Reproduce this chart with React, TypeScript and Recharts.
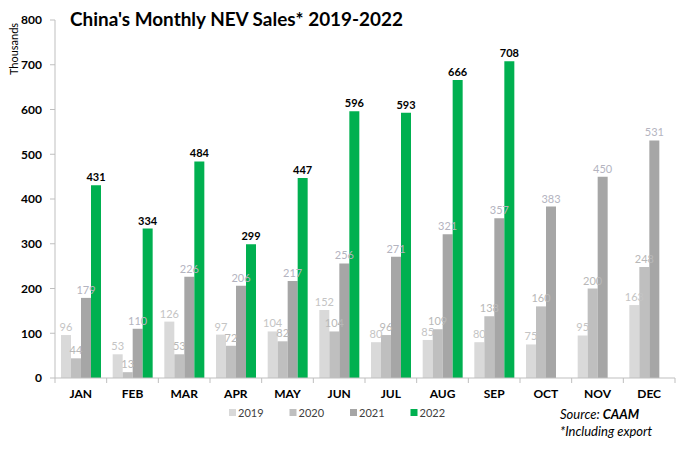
import { BarChart, Bar, XAxis, YAxis, LabelList } from "recharts";

const MONTHS = ["JAN", "FEB", "MAR", "APR", "MAY", "JUN", "JUL", "AUG", "SEP", "OCT", "NOV", "DEC"];
const SALES_2019 = [96, 53, 126, 97, 104, 152, 80, 85, 80, 75, 95, 163];
const SALES_2020 = [44, 13, 53, 72, 82, 104, 96, 109, 138, 160, 200, 248];
const SALES_2021 = [179, 110, 226, 206, 217, 256, 271, 321, 357, 383, 450, 531];
const SALES_2022 = [431, 334, 484, 299, 447, 596, 593, 666, 708, null, null, null];
const Y_TICKS = [0, 100, 200, 300, 400, 500, 600, 700, 800];

const WIDTH = 690;
const HEIGHT = 449;
const MARGIN = { top: 20, right: 15, left: 0, bottom: 0 };
const Y_AXIS_WIDTH = 55;
const X_AXIS_HEIGHT = 71;
const PLOT_BOTTOM = HEIGHT - MARGIN.bottom - X_AXIS_HEIGHT;
const BAND = (WIDTH - MARGIN.right - Y_AXIS_WIDTH) / MONTHS.length;

const FONT = "Lato, 'Open Sans', sans-serif";
const AXIS_GREY = "#bfbfbf";

const SERIES = [
    { key: "y2019", name: "2019", values: SALES_2019, color: "#d9d9d9", label: "#c4c4c4", bold: false },
    { key: "y2020", name: "2020", values: SALES_2020, color: "#bfbfbf", label: "#b8b8b8", bold: false },
    { key: "y2021", name: "2021", values: SALES_2021, color: "#a6a6a6", label: "#b4b4bf", bold: false },
    { key: "y2022", name: "2022", values: SALES_2022, color: "#00b050", label: "#000000", bold: true },
];

const data = MONTHS.map((month, i) => {
    const row: Record<string, string | number | null> = { month };
    SERIES.forEach((s) => {
        row[s.key] = s.values[i];
    });
    return row;
});

// Month label plus a tick mark on each category boundary.
function MonthTick(props: any) {
    const { x, payload, index } = props;
    const left = x - BAND / 2;
    const right = x + BAND / 2;
    return (
        <g>
            <line x1={left} y1={PLOT_BOTTOM} x2={left} y2={PLOT_BOTTOM + 5} stroke={AXIS_GREY} />
            {index === MONTHS.length - 1 && (
                <line x1={right} y1={PLOT_BOTTOM} x2={right} y2={PLOT_BOTTOM + 5} stroke={AXIS_GREY} />
            )}
            <text
                x={x}
                y={PLOT_BOTTOM + 20}
                textAnchor="middle"
                fontFamily={FONT}
                fontWeight="bold"
                fontSize={12}
                fill="#000"
            >
                {payload.value}
            </text>
        </g>
    );
}

export default function App() {
    return (
        <div style={{ position: "absolute", left: 0, top: 0, width: WIDTH, height: HEIGHT, background: "#fff" }}>
            <BarChart
                width={WIDTH}
                height={HEIGHT}
                data={data}
                margin={MARGIN}
                barCategoryGap={6}
                barGap={0}
            >
                <XAxis
                    dataKey="month"
                    height={X_AXIS_HEIGHT}
                    axisLine={{ stroke: AXIS_GREY }}
                    tickLine={false}
                    tick={<MonthTick />}
                    interval={0}
                />
                <YAxis
                    width={Y_AXIS_WIDTH}
                    domain={[0, 800]}
                    ticks={Y_TICKS}
                    interval={0}
                    axisLine={{ stroke: AXIS_GREY }}
                    tickLine={{ stroke: AXIS_GREY }}
                    tickSize={5}
                    tickMargin={8}
                    tick={{ fontFamily: FONT, fontWeight: "bold", fontSize: 12, fill: "#000" }}
                />
                {SERIES.map((s) => (
                    <Bar key={s.key} dataKey={s.key} name={s.name} fill={s.color} isAnimationActive={false}>
                        <LabelList
                            dataKey={s.key}
                            position="top"
                            offset={4}
                            formatter={(v: any) => (v == null ? "" : v)}
                            style={{
                                fontFamily: FONT,
                                fontSize: 11,
                                fontWeight: s.bold ? "bold" : "normal",
                                fill: s.label,
                            }}
                        />
                    </Bar>
                ))}
            </BarChart>

            <svg
                width={WIDTH}
                height={HEIGHT}
                style={{ position: "absolute", left: 0, top: 0, pointerEvents: "none" }}
            >
                <text
                    x={70}
                    y={26}
                    fontFamily={FONT}
                    fontWeight="bold"
                    fontSize={19.5}
                    textLength={333}
                    lengthAdjust="spacingAndGlyphs"
                    fill="#000"
                >
                    China's Monthly NEV Sales* 2019-2022
                </text>
                <text
                    transform="translate(18, 49) rotate(-90)"
                    textAnchor="middle"
                    fontFamily={FONT}
                    fontSize={11}
                    fill="#000"
                >
                    Thousands
                </text>

                {SERIES.map((s, i) => (
                    <g key={s.key} transform={`translate(${229 + i * 60.5}, 413)`}>
                        <rect x={0} y={-4} width={7} height={7} fill={s.color} />
                        <text x={9} y={4} fontFamily={FONT} fontSize={11} fill="#404040">
                            {s.name}
                        </text>
                    </g>
                ))}

                <text x={560} y={419} fontFamily={FONT} fontStyle="italic" fontSize={13} fill="#000">
                    Source: <tspan fontWeight="bold">CAAM</tspan>
                </text>
                <text x={560} y={436} fontFamily={FONT} fontStyle="italic" fontSize={13} fill="#000">
                    *Including export
                </text>
            </svg>
        </div>
    );
}
